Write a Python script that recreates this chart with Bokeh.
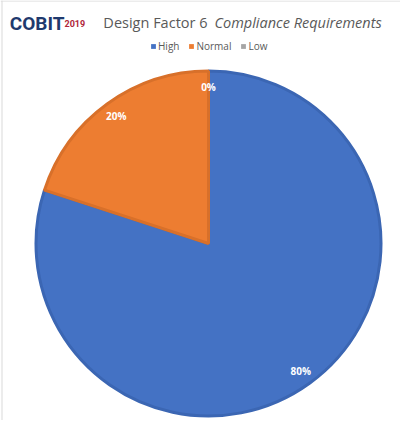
import math
from bokeh.plotting import figure
from bokeh.models import Legend, LegendItem, Span, ColumnDataSource
from bokeh.core.properties import value
from bokeh.embed import file_html
from bokeh.resources import INLINE

# ---- data ----
categories = ["High", "Normal", "Low"]
shares = [80, 20, 0]
colors = ["#4472C4", "#ED7D31", "#A5A5A5"]
edge_colors = ["#3B66B3", "#D8702A", "#959595"]
title_plain = "Design Factor 6"
title_italic = "Compliance Requirements"
logo_main = "COBIT"
logo_year = "2019"

W, H = 400, 420
p = figure(width=W, height=H, x_range=(0, W), y_range=(0, H),
           output_backend="svg", toolbar_location=None, min_border=0,
           x_axis_location=None, y_axis_location=None)
p.grid.visible = False
p.outline_line_color = None
p.background_fill_color = "white"
p.border_fill_color = "white"

# chart border (top and left visible)
p.add_layout(Span(location=419.5, dimension="width", line_color="#D9D9D9", line_width=1))
p.add_layout(Span(location=1.5, dimension="height", line_color="#D9D9D9", line_width=1))

# pie geometry
cx, cy, R = 208, 177, 172.5
total = float(sum(shares))
starts, ends, mids = [], [], []
acc = 0.0
for s in shares:
    a0 = math.pi / 2 - 2 * math.pi * acc / total
    acc += s
    a1 = math.pi / 2 - 2 * math.pi * acc / total
    starts.append(a0)
    ends.append(a1)
    mids.append((a0 + a1) / 2)

nz = [i for i, s in enumerate(shares) if s > 0]
src = ColumnDataSource(dict(
    x=[cx] * len(nz), y=[cy] * len(nz),
    start=[starts[i] for i in nz], end=[ends[i] for i in nz],
    fill=[colors[i] for i in nz], edge=[edge_colors[i] for i in nz],
))
p.wedge(x="x", y="y", radius=R, start_angle="start", end_angle="end",
        direction="clock", fill_color="fill", line_color="edge", line_width=3,
        source=src)

# data labels
lr = 157
lab_src = ColumnDataSource(dict(
    x=[cx + lr * math.cos(m) for m in mids],
    y=[cy + lr * math.sin(m) for m in mids],
    t=[f"{s}%" for s in shares],
))
p.text(x="x", y="y", text="t", source=lab_src, text_color="white",
       text_font=value("Open Sans"), text_font_style="bold", text_font_size="10px",
       text_align="center", text_baseline="middle")

# legend via proxy renderers
items = []
for cat, col in zip(categories, colors):
    r = p.quad(left=[float("nan")], right=[float("nan")], top=[float("nan")],
               bottom=[float("nan")], fill_color=col, line_color=None)
    items.append(LegendItem(label=cat, renderers=[r]))
legend = Legend(items=items, orientation="horizontal", location=(150, 367),
                margin=0, padding=0, spacing=9, glyph_width=6, glyph_height=6,
                label_height=12, label_standoff=2, label_text_font_size="10px",
                label_text_color="#595959", label_text_font="Open Sans",
                border_line_color=None, background_fill_alpha=0)
p.add_layout(legend, "center")

# title
p.text(x=[207], y=[398], text=[title_plain], text_align="right", text_baseline="middle",
       text_font=value("Open Sans"), text_font_size="14.5px", text_color="#595959")
p.text(x=[214], y=[398], text=[title_italic], text_align="left", text_baseline="middle",
       text_font=value("Open Sans"), text_font_style="italic", text_font_size="14.5px",
       text_color="#595959")

# logo
p.text(x=[64], y=[397], text=[logo_main], text_align="right", text_baseline="alphabetic",
       text_font=value("Roboto"), text_font_style="bold", text_font_size="19px",
       text_color="#1F3A6E")
p.text(x=[64], y=[397], text=[logo_year], text_align="left", text_baseline="alphabetic",
       text_font=value("Roboto"), text_font_style="bold", text_font_size="9px",
       text_color="#B0263A")

open("out.html", "w").write(file_html(p, INLINE))
